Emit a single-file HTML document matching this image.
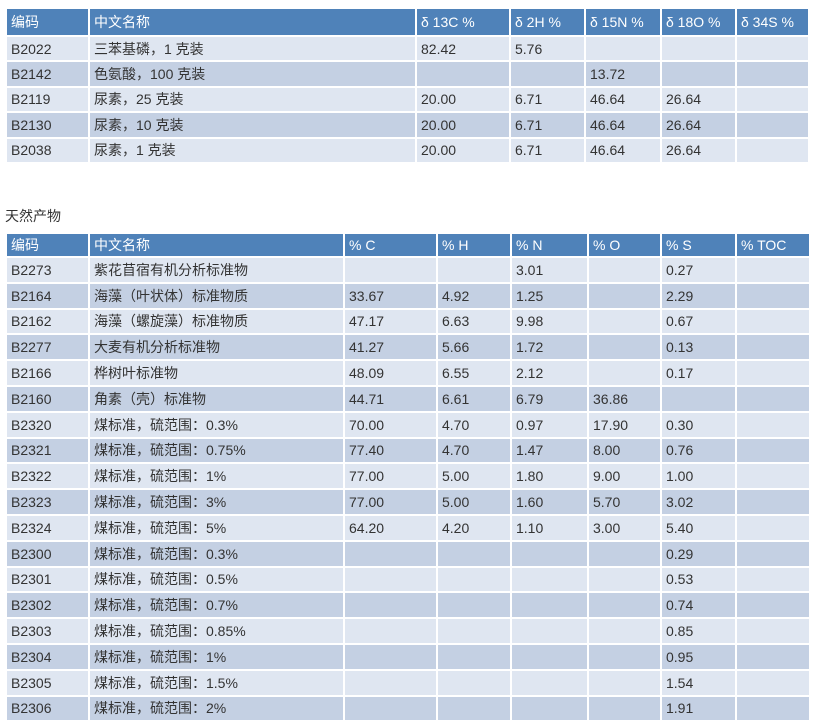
<!DOCTYPE html>
<html><head><meta charset="utf-8"><style>
body{margin:0;width:814px;height:723px;background:#fff;font-family:"Liberation Sans","Noto Sans CJK SC",sans-serif;font-size:14px;color:#333;position:relative;overflow:hidden}
table{position:absolute;left:5px;border-collapse:collapse;table-layout:fixed}
td{border:2px solid #fff;padding:0 0 0 4px;white-space:nowrap;overflow:hidden}
tr.h td{background:#4f82b9;color:#fff}
tr:nth-child(even) td{background:#dfe6f1}
tr:nth-child(odd):not(.h) td{background:#c4d0e3}
#t1 td{height:23.4px}
#t1 tr.h td{height:26px}
#t2 td{height:23.8px}
#t2 tr.h td{height:22px}
.cap{position:absolute;left:5px;top:206px;font-size:14px}
</style></head><body>
<table id="t1" style="top:7px;width:803px">
<colgroup><col style="width:83px"><col style="width:327px"><col style="width:94px"><col style="width:75px"><col style="width:76px"><col style="width:75px"><col style="width:73px"></colgroup>
<tr class="h"><td>编码</td><td>中文名称</td><td>δ 13C %</td><td>δ 2H %</td><td>δ 15N %</td><td>δ 18O %</td><td>δ 34S %</td></tr>
<tr><td>B2022</td><td>三苯基磷，1 克装</td><td>82.42</td><td>5.76</td><td></td><td></td><td></td></tr>
<tr><td>B2142</td><td>色氨酸，100 克装</td><td></td><td></td><td>13.72</td><td></td><td></td></tr>
<tr><td>B2119</td><td>尿素，25 克装</td><td>20.00</td><td>6.71</td><td>46.64</td><td>26.64</td><td></td></tr>
<tr><td>B2130</td><td>尿素，10 克装</td><td>20.00</td><td>6.71</td><td>46.64</td><td>26.64</td><td></td></tr>
<tr><td>B2038</td><td>尿素，1 克装</td><td>20.00</td><td>6.71</td><td>46.64</td><td>26.64</td><td></td></tr>
</table>
<div class="cap">天然产物</div>
<table id="t2" style="top:232px;width:804px">
<colgroup><col style="width:83px"><col style="width:255px"><col style="width:93px"><col style="width:74px"><col style="width:77px"><col style="width:73px"><col style="width:75px"><col style="width:74px"></colgroup>
<tr class="h"><td>编码</td><td>中文名称</td><td>% C</td><td>% H</td><td>% N</td><td>% O</td><td>% S</td><td>% TOC</td></tr>
<tr><td>B2273</td><td>紫花苜宿有机分析标准物</td><td></td><td></td><td>3.01</td><td></td><td>0.27</td><td></td></tr>
<tr><td>B2164</td><td>海藻（叶状体）标准物质</td><td>33.67</td><td>4.92</td><td>1.25</td><td></td><td>2.29</td><td></td></tr>
<tr><td>B2162</td><td>海藻（螺旋藻）标准物质</td><td>47.17</td><td>6.63</td><td>9.98</td><td></td><td>0.67</td><td></td></tr>
<tr><td>B2277</td><td>大麦有机分析标准物</td><td>41.27</td><td>5.66</td><td>1.72</td><td></td><td>0.13</td><td></td></tr>
<tr><td>B2166</td><td>桦树叶标准物</td><td>48.09</td><td>6.55</td><td>2.12</td><td></td><td>0.17</td><td></td></tr>
<tr><td>B2160</td><td>角素（壳）标准物</td><td>44.71</td><td>6.61</td><td>6.79</td><td>36.86</td><td></td><td></td></tr>
<tr><td>B2320</td><td>煤标准，硫范围：0.3%</td><td>70.00</td><td>4.70</td><td>0.97</td><td>17.90</td><td>0.30</td><td></td></tr>
<tr><td>B2321</td><td>煤标准，硫范围：0.75%</td><td>77.40</td><td>4.70</td><td>1.47</td><td>8.00</td><td>0.76</td><td></td></tr>
<tr><td>B2322</td><td>煤标准，硫范围：1%</td><td>77.00</td><td>5.00</td><td>1.80</td><td>9.00</td><td>1.00</td><td></td></tr>
<tr><td>B2323</td><td>煤标准，硫范围：3%</td><td>77.00</td><td>5.00</td><td>1.60</td><td>5.70</td><td>3.02</td><td></td></tr>
<tr><td>B2324</td><td>煤标准，硫范围：5%</td><td>64.20</td><td>4.20</td><td>1.10</td><td>3.00</td><td>5.40</td><td></td></tr>
<tr><td>B2300</td><td>煤标准，硫范围：0.3%</td><td></td><td></td><td></td><td></td><td>0.29</td><td></td></tr>
<tr><td>B2301</td><td>煤标准，硫范围：0.5%</td><td></td><td></td><td></td><td></td><td>0.53</td><td></td></tr>
<tr><td>B2302</td><td>煤标准，硫范围：0.7%</td><td></td><td></td><td></td><td></td><td>0.74</td><td></td></tr>
<tr><td>B2303</td><td>煤标准，硫范围：0.85%</td><td></td><td></td><td></td><td></td><td>0.85</td><td></td></tr>
<tr><td>B2304</td><td>煤标准，硫范围：1%</td><td></td><td></td><td></td><td></td><td>0.95</td><td></td></tr>
<tr><td>B2305</td><td>煤标准，硫范围：1.5%</td><td></td><td></td><td></td><td></td><td>1.54</td><td></td></tr>
<tr><td>B2306</td><td>煤标准，硫范围：2%</td><td></td><td></td><td></td><td></td><td>1.91</td><td></td></tr>
</table>
</body></html>
